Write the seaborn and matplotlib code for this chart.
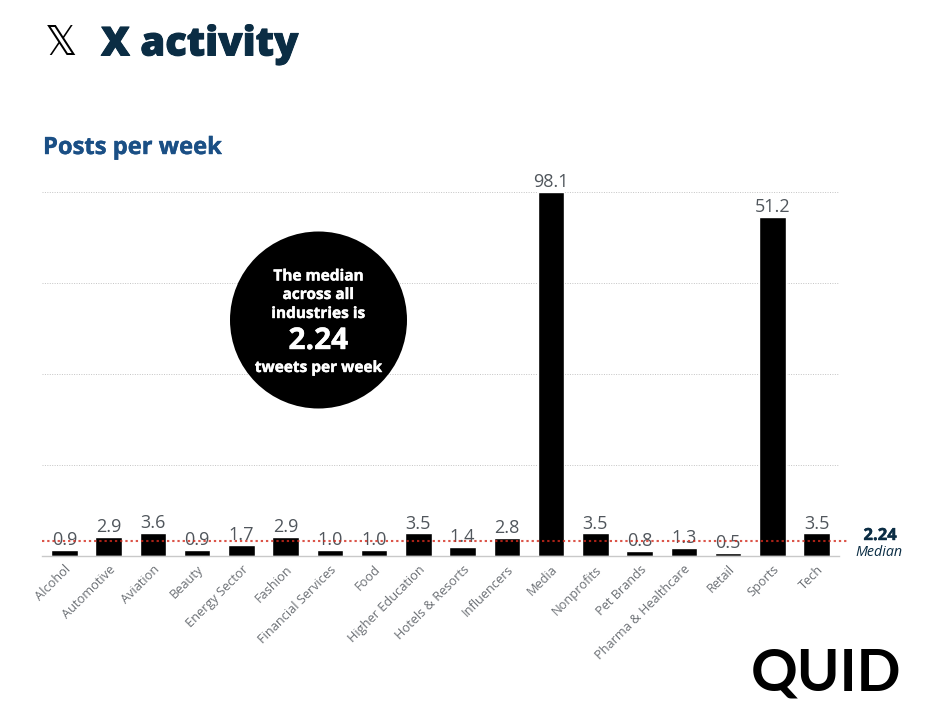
import numpy as np
import pandas as pd
import matplotlib
matplotlib.use('Agg')
import matplotlib.pyplot as plt
import matplotlib.patheffects as pe
from matplotlib.patches import Circle
import seaborn as sns

industries = ['Alcohol', 'Automotive', 'Aviation', 'Beauty', 'Energy Sector', 'Fashion',
              'Financial Services', 'Food', 'Higher Education', 'Hotels & Resorts',
              'Influencers', 'Media', 'Nonprofits', 'Pet Brands', 'Pharma & Healthcare',
              'Retail', 'Sports', 'Tech']
posts_per_week = [0.9, 2.9, 3.6, 0.9, 1.7, 2.9, 1.0, 1.0, 3.5, 1.4,
                  2.8, 98.1, 3.5, 0.8, 1.3, 0.5, 51.2, 3.5]
median_value = 2.24

# the original axis is not linear: small values are stretched, the two big bars squeezed
scale_values = [0, 3.6, 51.2, 98.1, 200]
scale_heights = [0, 23.4, 339, 364, 400]


def forward(v):
    return np.interp(v, scale_values, scale_heights)


def inverse(h):
    return np.interp(h, scale_heights, scale_values)


W, H = 930, 707
NAVY = '#0b2d44'

sns.set_theme(style='white')
plt.rcParams['font.family'] = ['Open Sans', 'DejaVu Sans']

df = pd.DataFrame({'industry': industries, 'posts': posts_per_week})

fig = plt.figure(figsize=(W / 100, H / 100), dpi=100, facecolor='white')
ax = fig.add_axes([42.4 / W, (H - 556) / H, (838.6 - 42.4) / W, 364 / H])

sns.barplot(data=df, x='industry', y='posts', color='black', saturation=1,
            width=0.6, ax=ax, zorder=2)

ax.set_yscale('function', functions=(forward, inverse))
ax.set_xlim(-0.5, len(industries) - 0.5)
ax.set_ylim(0, 98.1)
ax.set_yticks(inverse(np.array([91, 182, 273, 364])))
ax.minorticks_off()
ax.set_xlabel('')
ax.set_ylabel('')
ax.tick_params(axis='y', labelleft=False, length=0)
ax.tick_params(axis='x', length=0, pad=5)
ax.grid(axis='y', linestyle=(0, (1, 1.5)), linewidth=0.7, color='#c4c4c4', zorder=0)
ax.grid(axis='x', visible=False)
ax.set_axisbelow(True)
sns.despine(ax=ax, left=True)
ax.spines['bottom'].set_color('#c9c9c9')
ax.spines['bottom'].set_linewidth(1.0)

plt.setp(ax.get_xticklabels(), rotation=45, ha='right', va='top', rotation_mode='anchor',
         fontsize=9.2, color='#6c7075')

ax.bar_label(ax.containers[0], fmt='%.1f', padding=0.5, fontsize=13, color='#50565c', zorder=3)

ax.axhline(median_value, xmin=0, xmax=(847 - 42.4) / (838.6 - 42.4), clip_on=False, color='#d42a1c',
           alpha=0.8, linewidth=1.5, linestyle=(0, (1.1, 1.4)), zorder=4)


def px_text(x, y, s, stroke=0, **kw):
    t = fig.text(x / W, 1 - y / H, s, **kw)
    if stroke:
        t.set_path_effects([pe.withStroke(linewidth=stroke, foreground=kw['color'])])
    return t


px_text(101, 55.5, 'X activity', stroke=0.7, fontsize=28.8, fontweight='heavy', color=NAVY, va='baseline')
px_text(43, 154, 'Posts per week', stroke=0.3, fontsize=17.1, fontweight='bold', color='#1a4f85', va='baseline')
px_text(61.5, 44, '\U0001D54F', fontsize=29, color='black', ha='center', va='center',
        family='DejaVu Sans')

fig.add_artist(Circle((318.5 / 100, (H - 320) / 100), 0.885, transform=fig.dpi_scale_trans,
                      facecolor='black', edgecolor='none', zorder=5))
for y, s, size in [(276.5, 'The median', 11.1), (295, 'across all', 11.1), (314, 'industries is', 11.1),
                   (341, '2.24', 21.5), (368, 'tweets per week', 11.1)]:
    px_text(318.5, y, s, stroke=0.3, fontsize=size, fontweight='bold', color='white', ha='center',
            va='center', zorder=6)

px_text(880, 535, '2.24', stroke=0.3, fontsize=12, fontweight='bold', color=NAVY, ha='center', va='center')
px_text(879, 552, 'Median', fontsize=10.3, fontstyle='italic', color=NAVY, ha='center', va='center')

px_text(826, 691, 'QUID', fontsize=41.6, fontweight='bold', color='black', ha='center',
        va='baseline', family='Lato')

fig.savefig('out.png', dpi=100)
